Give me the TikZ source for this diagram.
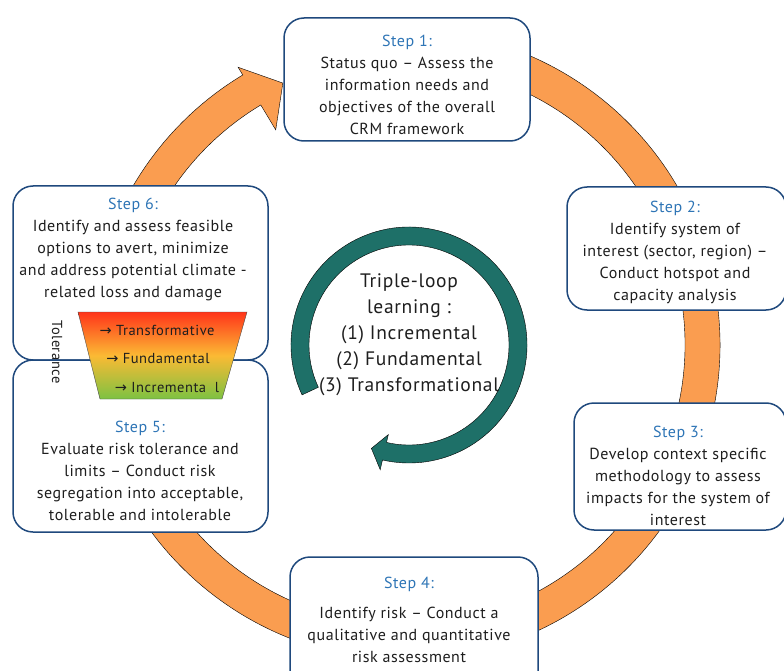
\documentclass[tikz,border=0pt]{standalone}
\usepackage{xcolor}
\usepackage{fontspec}
\setmainfont{PT Sans}[LetterSpace=3.5]
\newfontfamily\arrowfont{DejaVu Sans}
\usepackage{tikz}
\usetikzlibrary{positioning}
\definecolor{ringorange}{RGB}{250,157,80}
\definecolor{loopteal}{RGB}{30,112,104}
\definecolor{boxblue}{RGB}{31,73,125}
\definecolor{stepblue}{RGB}{46,117,182}
\definecolor{textgray}{RGB}{30,30,30}
\definecolor{tolred}{RGB}{255,52,26}
\definecolor{tolyellow}{RGB}{251,186,52}
\definecolor{tolgreen}{RGB}{125,194,66}
\newcommand{\tolarrow}{{\arrowfont →}}

\begin{document}
\begin{tikzpicture}[x=1pt,y=1pt,
  stepbox/.style={draw=boxblue, line width=1.5pt, fill=white, rounded corners=20pt, inner sep=0pt},
  steptext/.style={align=center, text=textgray, font=\fontsize{16}{22}\selectfont},
  tollabel/.style={text=textgray, font=\fontsize{14.5}{16}\selectfont}]
\useasboundingbox (0,0) rectangle (784,-671);
\clip (0,0) rectangle (784,-671);
\coordinate (ringc) at (405,-345);
\coordinate (loopc) at (409,-345);
% outer cycle
\draw[fill=ringorange, thin] ([shift={(ringc)}]100:315) arc[start angle=100, end angle=-239, radius=315] -- ([shift={(ringc)}]-239:324) -- ([shift={(ringc)}]-245:289) -- ([shift={(ringc)}]-239:251) -- ([shift={(ringc)}]-239:280) arc[start angle=-239, end angle=100, radius=280] -- cycle;
% steps
\node[stepbox, minimum width=246pt, minimum height=123pt] (box1) at (407,-79.5) {};
\node[stepbox, minimum width=219pt, minimum height=123pt] (box2) at (676.5,-248.5) {};
\node[stepbox, minimum width=212pt, minimum height=127pt] (box3) at (680,-466.5) {};
\node[stepbox, minimum width=248pt, minimum height=143pt] (box4) at (414,-628.5) {};
\node[stepbox, minimum width=255pt, minimum height=174pt] (box6) at (140.5,-273) {};
\node[stepbox, minimum width=255pt, minimum height=172pt] (box5) at (140.5,-446) {};
\node[steptext] (text1) at (407,-85) {\textcolor{stepblue}{Step 1:}\\Status quo -- Assess the\\information needs and\\objectives of the overall\\CRM framework};
\node[steptext] (text2) at (675,-252) {\textcolor{stepblue}{Step 2:}\\Identify system of\\interest (sector, region) --\\Conduct hotspot and\\capacity analysis};
\node[steptext] (text3) at (678,-476) {\textcolor{stepblue}{Step 3:}\\Develop context specific\\methodology to assess\\impacts for the system of\\interest};
\node[steptext] (text4) at (409,-620) {\textcolor{stepblue}{Step 4:}\\[8pt]Identify risk -- Conduct a\\qualitative and quantitative\\risk assessment};
\node[steptext] (text5) at (140,-471) {\textcolor{stepblue}{Step 5:}\\Evaluate risk tolerance and\\limits -- Conduct risk\\segregation into acceptable,\\tolerable and intolerable};
\node[steptext] (text6) at (133,-249) {\textcolor{stepblue}{Step 6:}\\Identify and assess feasible\\options to avert, minimize\\and address potential climate -\\related loss and damage};
% tolerance funnel
\draw[draw=gray!60!black, thin, top color=tolred, bottom color=tolgreen, middle color=tolyellow] (78,-312) -- (247,-312) -- (222,-399) -- (100,-399) -- cycle;
\node[tollabel] (tr1) at (157,-330) {\tolarrow\ Transformative};
\node[tollabel] (tr2) at (158,-359) {\tolarrow\ Fundamental};
\node[tollabel] (tr3) at (167,-388) {\tolarrow\ Incrementa\ \ l};
\node[tollabel, rotate=-90] (tol) at (57,-352) {Tolerance};
% learning loop
\draw[fill=loopteal, thin] ([shift={(loopc)}]205:118) arc[start angle=205, end angle=-103, radius=118] -- ([shift={(loopc)}]-103:128) -- ([shift={(loopc)}]-110:110) -- ([shift={(loopc)}]-103:92) -- ([shift={(loopc)}]-103:100) arc[start angle=-103, end angle=205, radius=100] -- cycle;
\node[align=center, text=textgray, font=\fontsize{19.5}{26}\selectfont] (loop) at (409,-335) {Triple-loop\\learning :\\(1) Incremental\\(2) Fundamental\\(3) Transformational};
\end{tikzpicture}
\end{document}
